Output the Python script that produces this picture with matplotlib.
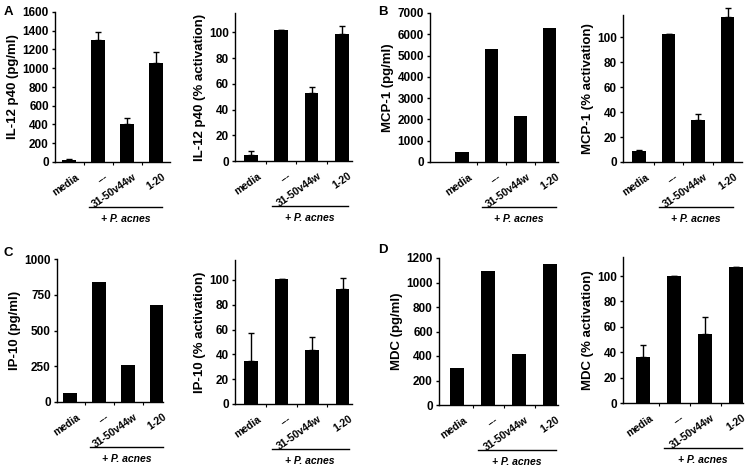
import matplotlib
matplotlib.use("Agg")
import matplotlib.pyplot as plt
import matplotlib.transforms as mtransforms
import numpy as np

plt.rcParams["font.family"] = ["Liberation Sans", "DejaVu Sans"]
plt.rcParams["font.weight"] = "bold"

categories = ["media", "---", "31-50v44w", "1-20"]

il12_pg = [25, 1300, 405, 1055]
il12_pg_err = [5, 90, 68, 114]
il12_pct = [5, 102, 53, 99]
il12_pct_err = [3, 0, 4.5, 6]

mcp1_pg = [480, 5300, 2150, 6280]
mcp1_pct = [8.5, 103, 34, 116]
mcp1_pct_err = [0.8, 0, 4.5, 8]

ip10_pg = [62, 838, 262, 680]
ip10_pct = [34.5, 100.5, 43.5, 92.5]
ip10_pct_err = [22.5, 0, 10.5, 9]

mdc_pg = [298, 1095, 418, 1148]
mdc_pct = [36.5, 100, 54, 107]
mdc_pct_err = [9.5, 0, 14, 0.3]

W, H = 750, 470
fig = plt.figure(figsize=(7.5, 4.7), dpi=100)


def panel(px, vals, err, ylabel, ymax, yticks, c0, step):
    # px = (left, right, top, bottom) in pixels
    x0, x1, yt, yb = px
    ax = fig.add_axes([x0 / W, 1 - yb / H, (x1 - x0) / W, (yb - yt) / H])
    x = np.arange(len(vals))
    ax.bar(x, vals, width=0.45, color="black")
    if err is not None:
        ax.errorbar(x, vals, yerr=[np.zeros(len(err)), err], fmt="none",
                    ecolor="black", elinewidth=1, capsize=2.5, capthick=1,
                    clip_on=False)
    ax.set_xlim((x0 - c0) / step, (x1 - c0) / step)
    ax.set_ylim(0, ymax)
    ax.set_yticks(yticks)
    ax.spines["top"].set_visible(False)
    ax.spines["right"].set_visible(False)
    ax.spines["left"].set_linewidth(1)
    ax.spines["bottom"].set_linewidth(1)
    ax.tick_params(axis="y", length=2.5, width=1, pad=2, labelsize=8.5)
    ax.set_xticks(x)
    ax.set_xticklabels(categories, rotation=35, ha="right",
                       rotation_mode="anchor", fontsize=7.5)
    ax.tick_params(axis="x", length=0, pad=7)
    shift = mtransforms.ScaledTranslation(6 / 100, 0, fig.dpi_scale_trans)
    for lab in ax.get_xticklabels():
        lab.set_transform(lab.get_transform() + shift)
    ax.set_xticks([0.5, 1.5, 2.5], minor=True)
    ax.tick_params(axis="x", which="minor", length=2, width=0.8)
    ax.set_ylabel(ylabel, fontsize=9.5, fontweight="bold", labelpad=2)

    # "+ P. acnes" bracket
    h = yb - yt
    tr = ax.get_xaxis_transform()
    ax.plot([0.68, 3.2], [-45 / h, -45 / h], color="black", lw=1,
            transform=tr, clip_on=False)
    ax.text(1.94, -57 / h, "+ P. acnes", transform=tr, style="italic",
            ha="center", va="center", fontsize=7.5)
    return ax


panel((55, 170, 12, 162), il12_pg, il12_pg_err, "IL-12 p40 (pg/ml)",
      1600, range(0, 1601, 200), 69, 29)
panel((235, 352, 13, 161), il12_pct, il12_pct_err, "IL-12 p40 (% activation)",
      115, range(0, 101, 20), 251, 30.3)
panel((430, 558, 13, 162), mcp1_pg, None, "MCP-1 (pg/ml)",
      7000, range(0, 7001, 1000), 462, 29.3)
panel((623, 742, 15, 162), mcp1_pct, mcp1_pct_err, "MCP-1 (% activation)",
      118, range(0, 101, 20), 639, 29.5)
panel((57, 163, 259, 402), ip10_pg, None, "IP-10 (pg/ml)",
      1000, [0, 250, 500, 750, 1000], 70, 29)
panel((235, 352, 260, 404), ip10_pct, ip10_pct_err, "IP-10 (% activation)",
      116, range(0, 101, 20), 251, 30.5)
panel((439, 558, 258, 405), mdc_pg, None, "MDC (pg/ml)",
      1200, range(0, 1201, 200), 457, 31)
panel((623, 743, 257, 403), mdc_pct, mdc_pct_err, "MDC (% activation)",
      115, range(0, 101, 20), 643, 31)

for letter, (lx, ly) in {"A": (4, 12), "B": (378, 12), "C": (4, 253), "D": (378, 250)}.items():
    fig.text(lx / W, 1 - ly / H, letter, fontsize=9.5, fontweight="bold",
             ha="left", va="center")

fig.savefig("out.png", dpi=100)
